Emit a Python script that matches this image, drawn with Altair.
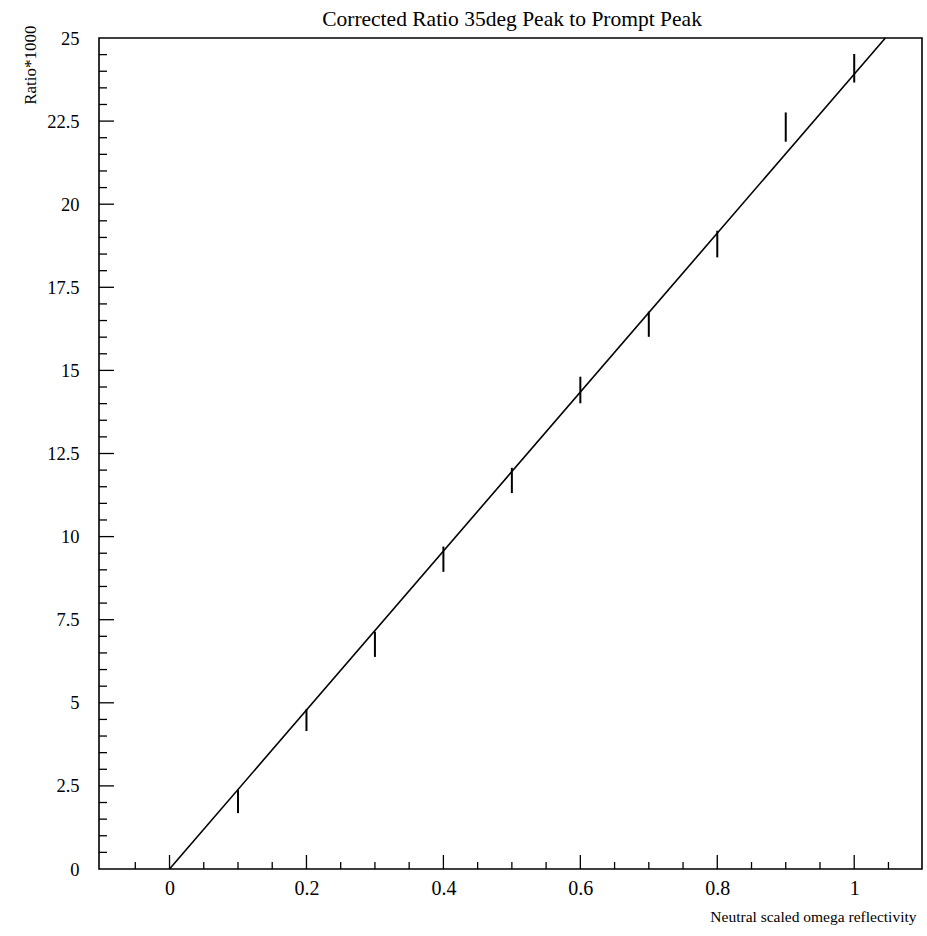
import altair as alt
import pandas as pd

# Title text
title_text = ["Corrected Ratio 35deg Peak to Prompt Peak"]

# Measured data points (error bars)
x_vals = [0.1, 0.2, 0.3, 0.4, 0.5, 0.6, 0.7, 0.8, 0.9, 1.0]
y_vals = [2.03, 4.48, 6.76, 9.32, 11.69, 14.41, 16.39, 18.80, 22.32, 24.09]
y_errs = [0.35, 0.33, 0.38, 0.38, 0.38, 0.40, 0.38, 0.40, 0.44, 0.43]

# Linear fit line endpoints (clipped at the top of the frame)
fit_x = [0.0, 1.0455]
fit_y = [0.0, 25.0]

# Tick positions
x_major = [0.0, 0.2, 0.4, 0.6, 0.8, 1.0]
x_minor = [-0.05, 0.05, 0.1, 0.15, 0.25, 0.3, 0.35, 0.45, 0.5, 0.55, 0.65,
           0.7, 0.75, 0.85, 0.9, 0.95, 1.05]
y_labels = [0, 2.5, 5, 7.5, 10, 12.5, 15, 17.5, 20, 22.5, 25]
y_major = [2.5, 5, 7.5, 10, 12.5, 15, 17.5, 20, 22.5]
y_minor = [v / 2 for v in range(1, 50) if v % 5 != 0]

W, H = 823, 831
FONT = "Liberation Serif"

xs = alt.Scale(domain=[-0.103, 1.099], nice=False, zero=False)
ys = alt.Scale(domain=[0, 25], nice=False, zero=False)

pts = pd.DataFrame({"x": x_vals, "y": y_vals, "e": y_errs})
pts["lo"] = pts["y"] - pts["e"]
pts["hi"] = pts["y"] + pts["e"]

xaxis = alt.Axis(
    title="Neutral scaled omega reflectivity", values=x_major,
    labelExpr="datum.value == 0 ? '0' : datum.value == 1 ? '1' : format(datum.value, '.1f')",
    ticks=False, tickSize=0, domain=False, grid=False,
    labelFont=FONT, labelFontSize=20, labelColor="black", labelPadding=9,
    titleFont=FONT, titleFontSize=15.5, titleFontWeight="normal", titleColor="black",
    titleAnchor="end", titleAlign="right", titleBaseline="alphabetic",
    titleX=817, titleY=52,
)
yaxis = alt.Axis(
    title="Ratio*1000", values=y_labels,
    labelExpr="datum.value == 0 ? '0' : format(datum.value, '')",
    ticks=False, tickSize=0, domain=False, grid=False,
    labelFont=FONT, labelFontSize=18.5, labelColor="black", labelPadding=20,
    titleFont=FONT, titleFontSize=17, titleFontWeight="normal", titleColor="black",
    titleAngle=-90, titleAlign="right", titleBaseline="alphabetic",
    titleX=-64, titleY=-13,
)

bars = alt.Chart(pts).mark_rule(color="black", strokeWidth=2).encode(
    x=alt.X("x:Q", scale=xs, axis=xaxis),
    y=alt.Y("lo:Q", scale=ys, axis=yaxis),
    y2="hi:Q",
)

fit = alt.Chart(pd.DataFrame({"x": fit_x, "y": fit_y})).mark_line(
    color="black", strokeWidth=1.6
).encode(x=alt.X("x:Q", scale=xs), y=alt.Y("y:Q", scale=ys))

def xticks(vals, length):
    return alt.Chart(pd.DataFrame({"t": vals})).mark_rule(color="black", strokeWidth=1.3).encode(
        x=alt.X("t:Q", scale=xs), y=alt.value(H), y2=alt.value(H - length)
    )

def yticks(vals, length):
    return alt.Chart(pd.DataFrame({"t": vals})).mark_rule(color="black", strokeWidth=1.3).encode(
        y=alt.Y("t:Q", scale=ys), x=alt.value(0), x2=alt.value(length)
    )

title = alt.Chart(pd.DataFrame({"t": title_text})).mark_text(
    font=FONT, fontSize=21.5, color="black", align="center", baseline="alphabetic"
).encode(text="t:N", x=alt.value(W / 2 + 1.5), y=alt.value(-12))

chart = alt.layer(
    xticks(x_major, 14), xticks(x_minor, 7), yticks(y_major, 15), yticks(y_minor, 8),
    fit, bars, title,
).properties(
    width=W, height=H,
    autosize=alt.AutoSizeParams(type="none"),
    padding={"left": 99, "top": 38, "right": 5, "bottom": 67},
).configure(
    background="white",
    view=alt.ViewConfig(stroke="black", strokeWidth=1.6),
)

chart.save("out.html", embed_options={"renderer": "svg", "actions": False})
